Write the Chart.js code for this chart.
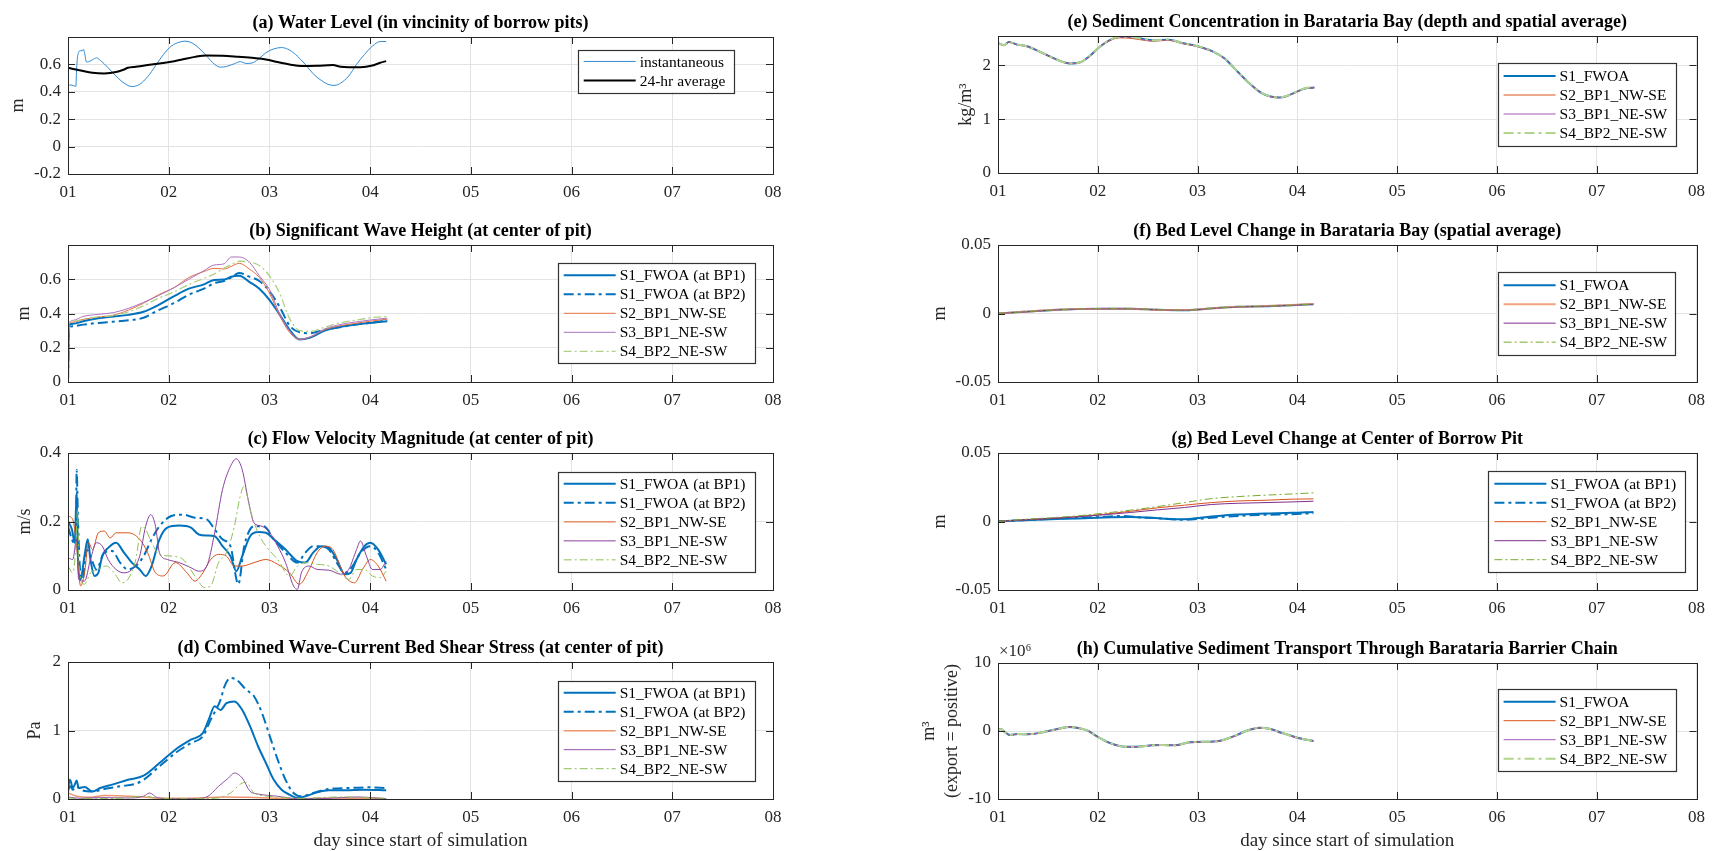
<!DOCTYPE html>
<html>
<head>
<meta charset="utf-8">
<script src="https://cdn.jsdelivr.net/npm/chart.js@4/dist/chart.umd.min.js"></script>
<style>
  body { margin: 0; background: #fff; width: 1713px; height: 851px; position: relative; overflow: hidden; }
  .p { position: absolute; }
</style>
</head>
<body>
<div class="p" style="left:0;top:0.7px;width:800px;height:205px"><canvas id="ca"></canvas></div>
<div class="p" style="left:0;top:209px;width:800px;height:205px"><canvas id="cb"></canvas></div>
<div class="p" style="left:0;top:417.3px;width:800px;height:205px"><canvas id="cc"></canvas></div>
<div class="p" style="left:0;top:626.3px;width:800px;height:225px"><canvas id="cd"></canvas></div>
<div class="p" style="left:860px;top:-0.3px;width:853px;height:205px"><canvas id="ce"></canvas></div>
<div class="p" style="left:860px;top:208.7px;width:853px;height:205px"><canvas id="cf"></canvas></div>
<div class="p" style="left:860px;top:417.3px;width:853px;height:205px"><canvas id="cg"></canvas></div>
<div class="p" style="left:860px;top:627.3px;width:853px;height:224px"><canvas id="ch"></canvas></div>
<script>
// x axis: day since start of simulation
const xTickValues = [1, 2, 3, 4, 5, 6, 7, 8];
const xTickLabels = ['01', '02', '03', '04', '05', '06', '07', '08'];

// (a) water level
const aInstDays = [1.000,1.027,1.078,1.086,1.098,1.125,1.145,1.153,1.164,1.184,1.204,1.243,1.282,1.321,1.399,1.477,1.556,1.634,1.712,1.791,1.869,1.947,2.025,2.104,2.162,2.221,2.299,2.378,2.456,2.515,2.573,2.652,2.710,2.769,2.828,2.887,2.965,3.043,3.121,3.200,3.278,3.356,3.434,3.513,3.591,3.650,3.708,3.787,3.865,3.943,4.022,4.100,4.159];
const aInst = [0.447,0.45,0.44,0.575,0.67,0.70,0.70,0.71,0.685,0.617,0.62,0.634,0.648,0.63,0.575,0.515,0.464,0.438,0.455,0.51,0.59,0.672,0.733,0.762,0.77,0.76,0.72,0.66,0.6,0.58,0.585,0.605,0.62,0.607,0.61,0.636,0.685,0.713,0.723,0.704,0.66,0.6,0.532,0.484,0.452,0.447,0.464,0.515,0.6,0.672,0.733,0.767,0.767];
const aAvgDays = [1.000,1.125,1.243,1.360,1.477,1.556,1.595,1.673,1.791,1.908,2.025,2.143,2.260,2.378,2.534,2.691,2.847,2.965,3.082,3.200,3.317,3.474,3.630,3.708,3.787,3.904,4.022,4.100,4.159];
const aAvg = [0.575,0.556,0.539,0.534,0.544,0.563,0.575,0.583,0.595,0.607,0.619,0.638,0.655,0.665,0.663,0.655,0.646,0.636,0.617,0.6,0.588,0.59,0.595,0.583,0.58,0.58,0.592,0.612,0.624];
const aTicks = [-0.2, 0, 0.2, 0.4, 0.6];
const aTickLabels = ['-0.2', '0', '0.2', '0.4', '0.6'];

// (b) significant wave height
const bDays = [1.0,1.01,1.05,1.15,1.3,1.45,1.6,1.75,1.9,2.05,2.2,2.35,2.45,2.55,2.62,2.7,2.8,2.9,3.0,3.1,3.2,3.3,3.4,3.55,3.7,3.85,4.0,4.17];
const bS1a = [0,0.33,0.34,0.355,0.372,0.382,0.392,0.41,0.45,0.50,0.545,0.57,0.596,0.598,0.615,0.62,0.585,0.545,0.48,0.395,0.305,0.248,0.258,0.30,0.322,0.335,0.345,0.355];
const bS1b = [0,0.32,0.326,0.335,0.345,0.352,0.36,0.375,0.42,0.46,0.51,0.545,0.577,0.59,0.61,0.637,0.615,0.59,0.53,0.44,0.33,0.29,0.285,0.305,0.32,0.335,0.345,0.36];
const bS2 = [0,0.34,0.35,0.365,0.38,0.39,0.42,0.46,0.51,0.55,0.61,0.645,0.664,0.66,0.675,0.693,0.66,0.61,0.52,0.39,0.29,0.248,0.262,0.305,0.328,0.342,0.355,0.367];
const bS3 = [0,0.34,0.36,0.383,0.395,0.405,0.43,0.465,0.505,0.55,0.6,0.65,0.683,0.69,0.73,0.73,0.70,0.62,0.54,0.40,0.30,0.25,0.262,0.31,0.335,0.35,0.362,0.373];
const bS4 = [0,0.345,0.355,0.367,0.38,0.388,0.41,0.445,0.49,0.525,0.57,0.605,0.63,0.665,0.685,0.705,0.70,0.68,0.62,0.52,0.37,0.30,0.295,0.32,0.345,0.36,0.375,0.383];
const bTicks = [0, 0.2, 0.4, 0.6];
const bTickLabels = ['0', '0.2', '0.4', '0.6'];

// (c) flow velocity magnitude
const cS1aDays = [1.000,1.039,1.067,1.086,1.098,1.125,1.164,1.196,1.223,1.262,1.301,1.341,1.399,1.477,1.556,1.634,1.712,1.771,1.830,1.908,1.986,2.104,2.221,2.299,2.378,2.456,2.534,2.613,2.671,2.730,2.808,2.887,2.965,3.043,3.160,3.278,3.356,3.434,3.513,3.591,3.669,3.748,3.806,3.865,3.943,4.002,4.080,4.159];
const cS1a = [0.2,0.177,0.138,0.283,0.1,0.031,0.1,0.148,0.089,0.041,0.05,0.1,0.123,0.138,0.109,0.08,0.06,0.041,0.07,0.148,0.182,0.188,0.182,0.162,0.159,0.157,0.128,0.099,0.055,0.099,0.157,0.169,0.167,0.148,0.118,0.084,0.08,0.109,0.128,0.123,0.089,0.046,0.05,0.089,0.128,0.138,0.118,0.075];
const cS1bDays = [1.000,1.039,1.078,1.086,1.098,1.117,1.145,1.184,1.223,1.282,1.360,1.438,1.517,1.595,1.673,1.751,1.830,1.908,2.025,2.143,2.260,2.378,2.456,2.534,2.613,2.691,2.750,2.847,2.945,3.043,3.160,3.278,3.356,3.434,3.513,3.591,3.669,3.748,3.826,3.904,4.002,4.080,4.159];
const cS1b = [0.186,0.148,0.128,0.351,0.216,0.07,0.031,0.118,0.099,0.06,0.109,0.114,0.08,0.06,0.07,0.099,0.148,0.186,0.216,0.22,0.211,0.206,0.177,0.148,0.128,0.017,0.128,0.186,0.186,0.148,0.109,0.08,0.109,0.128,0.128,0.118,0.08,0.05,0.07,0.109,0.128,0.109,0.06];
const cS2Days = [1.000,1.047,1.086,1.125,1.164,1.204,1.243,1.301,1.360,1.419,1.477,1.595,1.712,1.791,1.869,1.947,2.065,2.182,2.260,2.339,2.417,2.495,2.573,2.652,2.730,2.847,2.965,3.082,3.200,3.297,3.395,3.474,3.552,3.630,3.748,3.845,3.924,4.002,4.080,4.159];
const cS2 = [0.216,0.206,0.128,0.012,0.05,0.138,0.118,0.167,0.172,0.152,0.167,0.167,0.148,0.109,0.05,0.041,0.08,0.05,0.026,0.05,0.089,0.104,0.099,0.07,0.07,0.08,0.089,0.075,0.05,0.017,0.06,0.109,0.128,0.118,0.041,0.021,0.06,0.089,0.07,0.026];
const cS3Days = [1.000,1.047,1.086,1.106,1.164,1.223,1.282,1.341,1.399,1.477,1.556,1.634,1.712,1.771,1.822,1.869,1.908,1.986,2.104,2.221,2.299,2.378,2.456,2.534,2.613,2.671,2.730,2.789,2.847,2.926,3.004,3.082,3.160,3.239,3.278,3.317,3.395,3.474,3.591,3.708,3.787,3.865,3.904,3.963,4.022,4.100,4.159];
const cS3 = [0.094,0.089,0.148,0.031,0.026,0.089,0.138,0.128,0.089,0.06,0.05,0.06,0.099,0.186,0.22,0.186,0.109,0.089,0.08,0.065,0.055,0.07,0.167,0.293,0.361,0.383,0.351,0.264,0.196,0.186,0.167,0.128,0.08,0.012,0.002,0.05,0.07,0.06,0.058,0.046,0.06,0.118,0.143,0.099,0.06,0.06,0.084];
const cS4Days = [1.000,1.047,1.078,1.094,1.110,1.164,1.223,1.301,1.380,1.458,1.536,1.595,1.673,1.732,1.771,1.830,1.908,2.025,2.143,2.260,2.358,2.417,2.495,2.573,2.652,2.710,2.750,2.808,2.887,2.965,3.082,3.200,3.278,3.356,3.474,3.591,3.708,3.787,3.865,3.943,4.022,4.100,4.159];
const cS4 = [0.07,0.05,0.128,0.235,0.07,0.017,0.05,0.06,0.07,0.05,0.021,0.031,0.089,0.186,0.177,0.138,0.104,0.099,0.089,0.041,0.007,0.012,0.08,0.109,0.186,0.274,0.303,0.235,0.167,0.128,0.089,0.041,0.07,0.08,0.075,0.07,0.046,0.031,0.06,0.06,0.041,0.036,0.055];
const cTicks = [0, 0.2, 0.4];
const cTickLabels = ['0', '0.2', '0.4'];

// (d) combined wave-current bed shear stress
const dS1aDays = [1.000,1.016,1.027,1.047,1.067,1.086,1.106,1.164,1.243,1.321,1.438,1.595,1.751,1.908,2.065,2.221,2.339,2.397,2.456,2.515,2.573,2.652,2.730,2.808,2.887,2.965,3.043,3.121,3.200,3.278,3.356,3.474,3.591,3.748,3.943,4.159];
const dS1a = [0.09,0.28,0.26,0.16,0.21,0.27,0.16,0.175,0.11,0.16,0.21,0.28,0.34,0.525,0.72,0.866,0.963,1.158,1.353,1.30,1.40,1.425,1.30,1.06,0.77,0.525,0.28,0.136,0.063,0.015,0.039,0.097,0.127,0.127,0.136,0.127];
const dS1bDays = [1.000,1.027,1.047,1.086,1.125,1.243,1.360,1.517,1.673,1.751,1.908,2.065,2.221,2.339,2.417,2.515,2.554,2.613,2.671,2.769,2.847,2.926,3.004,3.082,3.160,3.239,3.317,3.434,3.591,3.787,3.982,4.159];
const dS1b = [0.136,0.185,0.136,0.185,0.136,0.11,0.146,0.185,0.224,0.28,0.477,0.67,0.817,0.915,1.158,1.45,1.645,1.766,1.742,1.596,1.50,1.255,0.915,0.574,0.28,0.088,0.039,0.088,0.146,0.16,0.17,0.16];
const dS2Days = [1.000,1.086,1.204,1.360,1.595,1.751,1.908,2.299,2.534,2.769,3.082,3.317,3.630,3.865,4.159];
const dS2 = [0.088,0.04,0.025,0.05,0.04,0.03,0.01,0.015,0.03,0.025,0.01,0.005,0.015,0.01,0.005];
const dS3Days = [1.000,1.125,1.321,1.595,1.751,1.810,1.888,2.065,2.260,2.378,2.495,2.593,2.652,2.730,2.808,2.887,3.082,3.278,3.591,3.865,4.159];
const dS3 = [0.03,0.01,0.02,0.015,0.04,0.088,0.02,0.005,0.005,0.03,0.185,0.307,0.38,0.307,0.112,0.073,0.04,0.005,0.01,0.03,0.005];
const dS4Days = [1.000,1.125,1.517,1.751,1.908,2.299,2.495,2.613,2.730,2.769,2.847,3.004,3.317,3.708,4.159];
const dS4 = [0.015,0.005,0.01,0.04,0.01,0.005,0.015,0.088,0.234,0.243,0.088,0.04,0.01,0.03,0.01];
const dTicks = [0, 1, 2];
const dTickLabels = ['0', '1', '2'];

// (e) sediment concentration in Barataria Bay
const eDays = [1.000,1.059,1.109,1.191,1.290,1.422,1.587,1.719,1.818,1.917,2.017,2.116,2.215,2.314,2.413,2.545,2.710,2.842,3.000,3.139,3.271,3.370,3.502,3.634,3.733,3.815,3.898,3.997,4.096,4.170];
const eS1 = [2.411,2.368,2.429,2.38,2.35,2.245,2.104,2.031,2.049,2.166,2.337,2.46,2.521,2.521,2.497,2.46,2.472,2.411,2.35,2.264,2.123,1.939,1.693,1.491,1.417,1.399,1.429,1.509,1.577,1.583];
const eS2 = [2.41,2.366,2.427,2.378,2.348,2.243,2.102,2.029,2.047,2.163,2.33,2.45,2.505,2.5,2.475,2.445,2.46,2.405,2.345,2.26,2.12,1.936,1.69,1.489,1.415,1.397,1.427,1.507,1.575,1.581];
const eS3 = [2.41,2.367,2.428,2.379,2.349,2.244,2.103,2.03,2.048,2.165,2.334,2.456,2.515,2.512,2.488,2.452,2.466,2.408,2.348,2.262,2.121,1.937,1.691,1.49,1.416,1.398,1.428,1.508,1.576,1.582];
const eS4 = [2.412,2.369,2.43,2.381,2.351,2.246,2.105,2.032,2.05,2.167,2.339,2.462,2.524,2.524,2.5,2.462,2.474,2.413,2.352,2.266,2.125,1.941,1.695,1.493,1.419,1.401,1.431,1.511,1.579,1.585];
const eTicks = [0, 1, 2];
const eTickLabels = ['0', '1', '2'];

// (f) bed level change in Barataria Bay
const fDays = [1.000,1.253,1.522,1.792,2.061,2.330,2.599,2.869,2.998,3.192,3.407,3.676,3.946,4.161];
const fS1 = [0,0.0012,0.0024,0.0032,0.0034,0.0034,0.0027,0.0024,0.0029,0.0041,0.0049,0.0053,0.0061,0.0068];
const fS2 = [0,0.0012,0.0025,0.0033,0.0035,0.0035,0.0028,0.0025,0.0029,0.0041,0.0049,0.0054,0.0062,0.0069];
const fS3 = [0,0.0011,0.0024,0.0032,0.0034,0.0034,0.0027,0.0024,0.0028,0.004,0.0048,0.0053,0.006,0.0068];
const fS4 = [0,0.0012,0.0024,0.0033,0.0035,0.0034,0.0028,0.0024,0.0029,0.0041,0.0049,0.0054,0.0061,0.0069];
const fTicks = [-0.05, 0, 0.05];
const fTickLabels = ['-0.05', '0', '0.05'];

// (g) bed level change at center of borrow pit
const gS1aDays = [1.000,1.253,1.522,1.792,2.061,2.330,2.546,2.761,2.922,3.138,3.407,3.676,3.946,4.161];
const gS1a = [0,0.001,0.0017,0.0022,0.0029,0.0032,0.0027,0.0017,0.0019,0.0036,0.0051,0.0058,0.0063,0.007];
const gS1bDays = [1.000,1.253,1.522,1.792,2.061,2.222,2.438,2.653,2.869,3.084,3.407,3.676,3.946,4.161];
const gS1b = [0,0.001,0.0019,0.0027,0.0034,0.0041,0.0029,0.0022,0.0012,0.0024,0.0041,0.0049,0.0053,0.0061];
const gDays = [1.000,1.253,1.522,1.792,2.061,2.330,2.599,2.869,3.138,3.407,3.676,3.946,4.161];
const gS2 = [0,0.0012,0.0022,0.0036,0.0053,0.0075,0.01,0.0119,0.0138,0.015,0.0155,0.0163,0.0165];
const gS3 = [0,0.0012,0.0022,0.0034,0.0049,0.0066,0.0085,0.0102,0.0124,0.0133,0.0138,0.0143,0.0148];
const gS4 = [0,0.0015,0.0027,0.0041,0.0061,0.0083,0.0109,0.0138,0.0167,0.0182,0.0192,0.0201,0.0209];

// (h) cumulative sediment transport, in units of 10^6 m3
const hDays = [1.000,1.027,1.065,1.118,1.199,1.307,1.469,1.630,1.711,1.792,1.899,1.996,2.115,2.276,2.384,2.546,2.653,2.761,2.922,3.084,3.192,3.353,3.515,3.622,3.730,3.838,4.000,4.161];
const hS1 = [0.15,0.3,-0.1,-0.59,-0.44,-0.49,-0.1,0.39,0.59,0.49,0.05,-0.83,-1.72,-2.3,-2.3,-2.1,-2.06,-2.1,-1.67,-1.57,-1.52,-0.83,0.15,0.49,0.29,-0.25,-0.98,-1.47];
const hS2 = [0.15,0.28,-0.1,-0.6,-0.45,-0.5,-0.12,0.37,0.57,0.47,0.03,-0.85,-1.74,-2.32,-2.32,-2.12,-2.08,-2.12,-1.69,-1.59,-1.54,-0.85,0.13,0.47,0.27,-0.27,-1.0,-1.49];
const hS3 = [0.15,0.29,-0.1,-0.59,-0.44,-0.49,-0.11,0.38,0.58,0.48,0.04,-0.84,-1.73,-2.31,-2.31,-2.11,-2.07,-2.11,-1.68,-1.58,-1.53,-0.84,0.14,0.48,0.28,-0.26,-0.99,-1.48];
const hS4 = [0.15,0.3,-0.1,-0.58,-0.43,-0.48,-0.1,0.39,0.59,0.49,0.05,-0.83,-1.72,-2.3,-2.3,-2.1,-2.06,-2.1,-1.67,-1.57,-1.52,-0.83,0.15,0.49,0.29,-0.25,-0.98,-1.47];
const hTicks = [-10, 0, 10];
const hTickLabels = ['-10', '0', '10'];

const SERIF = "'Liberation Serif', 'Times New Roman', serif";
const GRID = '#e3e3e3';
const AX = '#262626';
const DASH2 = [10, 4, 3, 4];
const DASH1 = [8, 3, 2, 3];

function line(label, xs, ys, color, width, dash) {
  return {
    label: label,
    data: xs.map((x, i) => ({ x: x, y: ys[i] })),
    borderColor: color,
    borderWidth: width,
    borderDash: dash || [],
    pointRadius: 0,
    fill: false,
    cubicInterpolationMode: 'monotone'
  };
}

// MATLAB style box with inward ticks, plus the x10^6 note
const frame = {
  id: 'frame',
  afterDatasetsDraw(chart, args, opts) {
    const ctx = chart.ctx, a = chart.chartArea;
    const x = chart.scales.x, y = chart.scales.y;
    ctx.save();
    ctx.strokeStyle = AX;
    ctx.lineWidth = 1;
    ctx.strokeRect(Math.round(a.left) + 0.5, Math.round(a.top) + 0.5, Math.round(a.right - a.left), Math.round(a.bottom - a.top));
    ctx.beginPath();
    x.ticks.forEach(t => {
      const px = Math.round(x.getPixelForValue(t.value)) + 0.5;
      ctx.moveTo(px, a.bottom); ctx.lineTo(px, a.bottom - 7);
      ctx.moveTo(px, a.top); ctx.lineTo(px, a.top + 7);
    });
    y.ticks.forEach(t => {
      const py = Math.round(y.getPixelForValue(t.value)) + 0.5;
      ctx.moveTo(a.left, py); ctx.lineTo(a.left + 7, py);
      ctx.moveTo(a.right, py); ctx.lineTo(a.right - 7, py);
    });
    ctx.stroke();
    if (opts.exponent) {
      ctx.fillStyle = AX;
      ctx.font = '17px ' + SERIF;
      ctx.textBaseline = 'middle';
      ctx.fillText(opts.exponent, a.left + 1, a.top - 11);
    }
    ctx.restore();
  }
};

// legend drawn as an opaque box inside the axes
const boxLegend = {
  id: 'boxLegend',
  afterDatasetsDraw(chart, args, opts) {
    if (!opts.box) return;
    const ctx = chart.ctx;
    const [x1, y1, x2, y2] = opts.box;
    const ds = chart.data.datasets;
    ctx.save();
    ctx.fillStyle = '#fff';
    ctx.fillRect(x1, y1, x2 - x1, y2 - y1);
    ctx.strokeStyle = '#333';
    ctx.lineWidth = 1.2;
    ctx.strokeRect(Math.round(x1) + 0.5, Math.round(y1) + 0.5, Math.round(x2 - x1), Math.round(y2 - y1));
    let yy = y1 + (y2 - y1 - (ds.length - 1) * opts.rowH) / 2;
    ds.forEach(d => {
      ctx.strokeStyle = d.borderColor;
      ctx.lineWidth = d.borderWidth;
      ctx.setLineDash(d.borderDash || []);
      ctx.beginPath();
      ctx.moveTo(x1 + 6, yy); ctx.lineTo(x1 + 58, yy);
      ctx.stroke();
      ctx.setLineDash([]);
      ctx.fillStyle = '#000';
      ctx.font = '15.5px ' + SERIF;
      ctx.textBaseline = 'middle';
      ctx.fillText(d.label, x1 + 62, yy + 1);
      yy += opts.rowH;
    });
    ctx.restore();
  }
};

function panel(id, o) {
  const yTickVals = o.yTicks;
  // later series drawn on top, as in the original plot
  o.datasets.forEach((d, i) => { d.order = o.datasets.length - i; });
  new Chart(document.getElementById(id), {
    type: 'line',
    data: { datasets: o.datasets },
    options: {
      responsive: true,
      maintainAspectRatio: false,
      animation: false,
      layout: { padding: { right: o.padRight, top: 0, bottom: 0, left: 0 } },
      plugins: {
        legend: { display: false },
        tooltip: { enabled: false },
        title: {
          display: true, text: o.title, color: '#000', fullSize: false,
          font: { family: SERIF, size: 18, weight: 'bold', lineHeight: 1.2 },
          padding: { top: 11.7, bottom: 2.7 }
        },
        frame: { exponent: o.exponent },
        boxLegend: { box: o.legendBox, rowH: 19 }
      },
      scales: {
        x: {
          type: 'linear', min: 1, max: 8,
          afterBuildTicks: ax => { ax.ticks = xTickValues.map(v => ({ value: v })); },
          afterFit: ax => { ax.height = o.xH; },
          ticks: { callback: v => xTickLabels[xTickValues.indexOf(v)], color: AX, font: { family: SERIF, size: 17 }, padding: 8, maxRotation: 0, autoSkip: false },
          grid: { color: GRID, drawTicks: false },
          border: { display: false },
          title: o.xTitle
            ? { display: true, text: o.xTitle, color: AX, font: { family: SERIF, size: 19, lineHeight: 1 }, padding: { top: 0, bottom: 0 } }
            : { display: false }
        },
        y: {
          type: 'linear', min: o.yMin, max: o.yMax,
          afterBuildTicks: ax => { ax.ticks = yTickVals.map(v => ({ value: v })); },
          afterFit: ax => { ax.width = o.yW; },
          ticks: { callback: v => o.yTickLabels[yTickVals.indexOf(v)], color: AX, font: { family: SERIF, size: 17 }, padding: 7, autoSkip: false },
          grid: { color: GRID, drawTicks: false },
          border: { display: false },
          title: {
            display: true, text: o.yTitle, color: AX,
            font: { family: SERIF, size: 18, lineHeight: o.yLH || 1.2 },
            padding: { top: o.yPad, bottom: 0 }
          }
        }
      }
    },
    plugins: [frame, boxLegend]
  });
}

const BLUE = '#0072BD';

panel('ca', {
  title: '(a) Water Level (in vincinity of borrow pits)',
  datasets: [
    line('instantaneous', aInstDays, aInst, '#2f8ad3', 1),
    line('24-hr average', aAvgDays, aAvg, '#000000', 2)
  ],
  yMin: -0.2, yMax: 0.8, yTicks: aTicks, yTickLabels: aTickLabels,
  yTitle: 'm', yPad: 7, yW: 68, padRight: 27, xH: 32,
  legendBox: [577.7, 48.6, 733.3, 91.3]
});

panel('cb', {
  title: '(b) Significant Wave Height (at center of pit)',
  datasets: [
    line('S1_FWOA (at BP1)', bDays, bS1a, BLUE, 2),
    line('S1_FWOA (at BP2)', bDays, bS1b, BLUE, 2, DASH2),
    line('S2_BP1_NW-SE', bDays, bS2, '#E2703F', 1),
    line('S3_BP1_NE-SW', bDays, bS3, '#AC72C0', 1),
    line('S4_BP2_NE-SW', bDays, bS4, '#AFD185', 1.3, DASH1)
  ],
  yMin: 0, yMax: 0.8, yTicks: bTicks, yTickLabels: bTickLabels,
  yTitle: 'm', yPad: 13.7, yW: 68, padRight: 27, xH: 32,
  legendBox: [557.7, 54.3, 755, 154.3]
});

panel('cc', {
  title: '(c) Flow Velocity Magnitude (at center of pit)',
  datasets: [
    line('S1_FWOA (at BP1)', cS1aDays, cS1a, BLUE, 2),
    line('S1_FWOA (at BP2)', cS1bDays, cS1b, BLUE, 2, DASH2),
    line('S2_BP1_NW-SE', cS2Days, cS2, '#D95319', 1),
    line('S3_BP1_NE-SW', cS3Days, cS3, '#8A40A0', 1),
    line('S4_BP2_NE-SW', cS4Days, cS4, '#8EBF55', 1, DASH1)
  ],
  yMin: 0, yMax: 0.4, yTicks: cTicks, yTickLabels: cTickLabels,
  yTitle: 'm/s', yPad: 14.9, yW: 68, padRight: 27, xH: 32,
  legendBox: [557.7, 54.7, 755, 155]
});

panel('cd', {
  title: '(d) Combined Wave-Current Bed Shear Stress (at center of pit)',
  datasets: [
    line('S1_FWOA (at BP1)', dS1aDays, dS1a, BLUE, 2),
    line('S1_FWOA (at BP2)', dS1bDays, dS1b, BLUE, 2, DASH2),
    line('S2_BP1_NW-SE', dS2Days, dS2, '#EC9570', 1.5),
    line('S3_BP1_NE-SW', dS3Days, dS3, '#9650AA', 1),
    line('S4_BP2_NE-SW', dS4Days, dS4, '#8EBF55', 1, DASH1)
  ],
  yMin: 0, yMax: 2, yTicks: dTicks, yTickLabels: dTickLabels,
  yTitle: 'Pa', yPad: 24.8, yW: 68, padRight: 27, xH: 52,
  xTitle: 'day since start of simulation',
  legendBox: [557.7, 54.7, 755, 154.7]
});

panel('ce', {
  title: '(e) Sediment Concentration in Barataria Bay (depth and spatial average)',
  datasets: [
    line('S1_FWOA', eDays, eS1, BLUE, 2),
    line('S2_BP1_NW-SE', eDays, eS2, '#D95319', 1),
    line('S3_BP1_NE-SW', eDays, eS3, '#A35BB8', 1),
    line('S4_BP2_NE-SW', eDays, eS4, '#B3D48C', 2, DASH2)
  ],
  yMin: 0, yMax: 2.54, yTicks: eTicks, yTickLabels: eTickLabels,
  yTitle: 'kg/m³', yPad: 95.2, yW: 138, padRight: 10, xH: 32,
  legendBox: [637.6, 63, 816, 146]
});

panel('cf', {
  title: '(f) Bed Level Change in Barataria Bay (spatial average)',
  datasets: [
    line('S1_FWOA', fDays, fS1, BLUE, 2),
    line('S2_BP1_NW-SE', fDays, fS2, '#F1A27E', 2),
    line('S3_BP1_NE-SW', fDays, fS3, '#7E2F8E', 1),
    line('S4_BP2_NE-SW', fDays, fS4, '#77AC30', 1, DASH1)
  ],
  yMin: -0.05, yMax: 0.05, yTicks: fTicks, yTickLabels: fTickLabels,
  yTitle: 'm', yPad: 69.7, yW: 138, padRight: 10, xH: 32,
  legendBox: [637.6, 63.3, 814.5, 146]
});

panel('cg', {
  title: '(g) Bed Level Change at Center of Borrow Pit',
  datasets: [
    line('S1_FWOA (at BP1)', gS1aDays, gS1a, BLUE, 2),
    line('S1_FWOA (at BP2)', gS1bDays, gS1b, BLUE, 2, DASH2),
    line('S2_BP1_NW-SE', gDays, gS2, '#D95319', 1),
    line('S3_BP1_NE-SW', gDays, gS3, '#7E2F8E', 1),
    line('S4_BP2_NE-SW', gDays, gS4, '#77AC30', 1, DASH1)
  ],
  yMin: -0.05, yMax: 0.05, yTicks: fTicks, yTickLabels: fTickLabels,
  yTitle: 'm', yPad: 69.7, yW: 138, padRight: 10, xH: 32,
  legendBox: [628.4, 54.4, 825.4, 155]
});

panel('ch', {
  title: '(h) Cumulative Sediment Transport Through Barataria Barrier Chain',
  datasets: [
    line('S1_FWOA', hDays, hS1, BLUE, 2),
    line('S2_BP1_NW-SE', hDays, hS2, '#D95319', 1),
    line('S3_BP1_NE-SW', hDays, hS3, '#A35BB8', 1),
    line('S4_BP2_NE-SW', hDays, hS4, '#B3D48C', 2, DASH2)
  ],
  yMin: -10, yMax: 10, yTicks: hTicks, yTickLabels: hTickLabels,
  yTitle: ['m³', '(export = positive)'], yPad: 58.4, yLH: 1.25, yW: 138, padRight: 10, xH: 52,
  xTitle: 'day since start of simulation',
  exponent: '×10⁶',
  legendBox: [637.6, 62, 816, 144.4]
});
</script>
</body>
</html>
